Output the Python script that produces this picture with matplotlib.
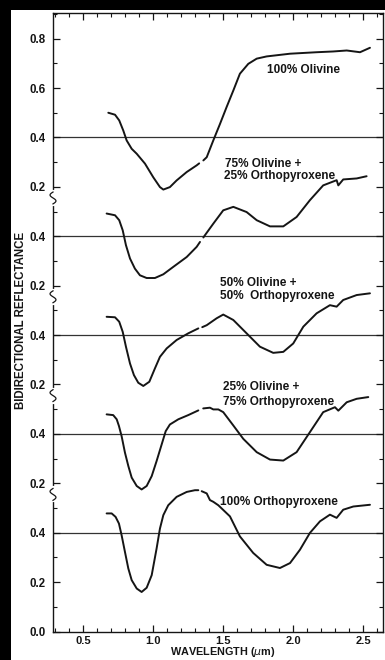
import numpy as np
import matplotlib
matplotlib.use("Agg")
import matplotlib.pyplot as plt
from matplotlib.patches import Rectangle
from matplotlib.ticker import MultipleLocator

plt.rcParams['font.family'] = ['Liberation Sans', 'DejaVu Sans']

# Bidirectional reflectance spectra of olivine / orthopyroxene mixtures.
# Wavelength in micrometres; NaN marks the gap where the detectors switch.
wl_opx100 = [0.669, 0.705, 0.733, 0.757, 0.776, 0.800, 0.824, 0.848, 0.884, 0.919,
             0.955, 0.991, 1.026, 1.050, 1.074, 1.109, 1.169, 1.241, 1.300, 1.324,
             1.336, 1.348, 1.384, 1.407, 1.431, 1.467, 1.550, 1.621, 1.716, 1.812,
             1.907, 1.979, 2.050, 2.121, 2.193, 2.264, 2.312, 2.359, 2.431, 2.550]
r_opx100 = [0.478, 0.478, 0.464, 0.437, 0.390, 0.322, 0.255, 0.208, 0.174, 0.160,
            0.177, 0.228, 0.336, 0.417, 0.471, 0.511, 0.545, 0.565, 0.572, 0.572,
            np.nan, 0.568, 0.559, 0.532, 0.525, 0.511, 0.466, 0.385, 0.318, 0.270,
            0.257, 0.277, 0.331, 0.399, 0.446, 0.473, 0.460, 0.493, 0.506, 0.513]

wl_ol25 = [0.669, 0.716, 0.741, 0.757, 0.776, 0.800, 0.824, 0.848, 0.884, 0.919,
           0.955, 0.991, 1.026, 1.062, 1.091, 1.121, 1.181, 1.252, 1.324, 1.340,
           1.359, 1.407, 1.431, 1.467, 1.502, 1.574, 1.645, 1.741, 1.836, 1.931,
           2.026, 2.121, 2.216, 2.300, 2.324, 2.384, 2.455, 2.538]
r_ol25 = [0.479, 0.476, 0.459, 0.432, 0.391, 0.324, 0.270, 0.223, 0.189, 0.175,
          0.189, 0.229, 0.290, 0.357, 0.411, 0.438, 0.459, 0.476, 0.495, np.nan,
          0.503, 0.506, 0.499, 0.499, 0.488, 0.434, 0.380, 0.326, 0.296, 0.292,
          0.326, 0.407, 0.488, 0.508, 0.494, 0.528, 0.542, 0.549]

wl_ol50 = [0.669, 0.729, 0.759, 0.784, 0.807, 0.836, 0.864, 0.895, 0.931, 0.974,
           1.014, 1.050, 1.098, 1.169, 1.252, 1.324, 1.338, 1.352, 1.384, 1.455,
           1.502, 1.574, 1.669, 1.764, 1.859, 1.931, 2.002, 2.074, 2.169, 2.264,
           2.312, 2.359, 2.455, 2.550]
r_ol50 = [0.474, 0.472, 0.454, 0.413, 0.353, 0.285, 0.238, 0.207, 0.194, 0.211,
          0.265, 0.312, 0.346, 0.380, 0.407, 0.427, np.nan, 0.432, 0.440, 0.468,
          0.483, 0.461, 0.407, 0.353, 0.328, 0.332, 0.366, 0.434, 0.488, 0.521,
          0.515, 0.542, 0.562, 0.569]

wl_ol75 = [0.669, 0.729, 0.759, 0.784, 0.807, 0.836, 0.871, 0.907, 0.955, 1.014,
           1.074, 1.145, 1.241, 1.312, 1.336, 1.348, 1.360, 1.371, 1.431, 1.502,
           1.574, 1.669, 1.741, 1.836, 1.931, 2.026, 2.121, 2.216, 2.312, 2.324,
           2.359, 2.455, 2.526]
r_ol75 = [0.492, 0.485, 0.465, 0.424, 0.364, 0.310, 0.269, 0.242, 0.231, 0.231,
          0.246, 0.276, 0.316, 0.357, 0.377, np.nan, 0.395, 0.404, 0.451, 0.505,
          0.519, 0.498, 0.465, 0.440, 0.440, 0.478, 0.546, 0.606, 0.627, 0.606,
          0.630, 0.634, 0.643]

wl_ol100 = [0.681, 0.729, 0.759, 0.788, 0.812, 0.848, 0.884, 0.943, 1.002, 1.050,
            1.074, 1.121, 1.169, 1.241, 1.312, 1.330, 1.345, 1.360, 1.384, 1.431,
            1.479, 1.526, 1.574, 1.621, 1.681, 1.741, 1.812, 1.979, 2.169, 2.286,
            2.384, 2.479, 2.550]
r_ol100 = [0.500, 0.492, 0.469, 0.428, 0.388, 0.354, 0.334, 0.294, 0.239, 0.199,
           0.189, 0.199, 0.226, 0.260, 0.287, 0.295, np.nan, 0.307, 0.320, 0.388,
           0.455, 0.523, 0.590, 0.658, 0.698, 0.719, 0.728, 0.739, 0.745, 0.748,
           0.752, 0.745, 0.763]

# Each spectrum is stacked 0.4 reflectance units above the one below it
offsets = [0.0, 0.4, 0.8, 1.2, 1.6]
spectra = [(wl_opx100, r_opx100), (wl_ol25, r_ol25), (wl_ol50, r_ol50),
           (wl_ol75, r_ol75), (wl_ol100, r_ol100)]

xtick_vals = [0.5, 1.0, 1.5, 2.0, 2.5]
xtick_labels = ['0.5', '1.0', '1.5', '2.0', '2.5']
ytick_vals = [0.0, 0.2, 0.4, 0.6, 0.8, 1.0, 1.2, 1.4, 1.6, 1.8, 2.0, 2.2, 2.4]
ytick_labels = ['0.0', '0.2', '0.4', '0.2', '0.4', '0.2', '0.4', '0.2', '0.4',
                '0.2', '0.4', '0.6', '0.8']

W, H = 385, 660
fig = plt.figure(figsize=(W / 100, H / 100), dpi=100, facecolor='black')
fig.add_artist(Rectangle((11 / W, 0), 1 - 11 / W, 1 - 9.5 / H,
                         transform=fig.transFigure, facecolor='white',
                         edgecolor='none', zorder=-1))

ax = fig.add_axes([53 / W, 28.5 / H, 329.7 / W, 618.8 / H])
ax.set_facecolor('white')
ax.set_xlim(0.286, 2.641)
ax.set_ylim(0, 2.505)

ink = '#151515'
for off in offsets:
    ax.axhline(off + 0.4, color='#333333', lw=0.9, zorder=1)

for off, (wl, r) in zip(offsets, spectra):
    ax.plot(wl, np.asarray(r, dtype=float) + off, color=ink, lw=1.4, zorder=3,
            solid_capstyle='round', solid_joinstyle='round')

ax.set_xticks(xtick_vals)
ax.set_xticklabels(xtick_labels)
ax.set_yticks(ytick_vals)
ax.set_yticklabels(ytick_labels)
ax.xaxis.set_minor_locator(MultipleLocator(0.1))
ax.yaxis.set_minor_locator(MultipleLocator(0.1))
ax.tick_params(which='both', direction='in', top=True, right=True, color=ink)
ax.tick_params(which='major', length=5, width=0.9)
ax.tick_params(which='minor', length=3, width=0.8)
ax.tick_params(axis='x', pad=3.2, labelsize=8, labelcolor=ink)
ax.tick_params(axis='y', pad=5, labelsize=8.3, labelcolor=ink)
for lbl in ax.get_xticklabels() + ax.get_yticklabels():
    lbl.set_fontweight('bold')
for sp in ax.spines.values():
    sp.set_color(ink)
    sp.set_linewidth(1.0)

# Break marks on the left axis between stacked spectra
trans = ax.get_yaxis_transform()
for yb in [0.555, 0.955, 1.355, 1.755]:
    ax.plot([0, 0], [yb - 0.024, yb + 0.024], transform=trans, color='white',
            lw=3, clip_on=False, zorder=5)
    t = np.linspace(0, 1, 25)
    ax.plot(-0.009 * np.sin(2 * np.pi * t), yb + 0.024 - 0.048 * t,
            transform=trans, color=ink, lw=0.9, clip_on=False, zorder=6)

txt = dict(fontsize=8.5, fontweight='bold', color=ink, va='center', ha='left')
ax.text(1.814, 2.273, '100% Olivine', **txt)
ax.text(1.514, 1.893, '75% Olivine +', **txt)
ax.text(1.510, 1.842, '25% Orthopyroxene', **txt)
ax.text(1.479, 1.412, '50% Olivine +', **txt)
ax.text(1.479, 1.357, '50%  Orthopyroxene', **txt)
ax.text(1.502, 0.989, '25% Olivine +', **txt)
ax.text(1.502, 0.931, '75% Orthopyroxene', **txt)
ax.text(1.479, 0.523, '100% Orthopyroxene', **txt)

fig.text(21.5 / W, 1 - 320 / H, 'BIDIRECTIONAL REFLECTANCE', rotation=90,
         fontsize=8.3, fontweight='bold', color=ink, ha='center', va='center')
fig.text(223 / W, 0.8 / H, r'WAVELENGTH ($\mu$m)', fontsize=7.8,
         fontweight='bold', color=ink, ha='center', va='bottom')

fig.savefig('out.png', dpi=100, facecolor=fig.get_facecolor())
